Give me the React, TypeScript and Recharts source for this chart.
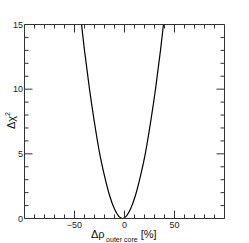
import React from 'react';
import { LineChart, Line, XAxis, YAxis } from 'recharts';

const deltaRho = [-44, -40, -35, -30, -25, -20, -15, -10, -6, -4, -2, 0, 2, 6, 11, 16, 21, 26, 31, 36, 40];
const deltaChi2 = [15.7, 13.0, 10.0, 7.4, 5.1, 3.3, 1.8, 0.73, 0.2, 0.06, 0, 0.06, 0.2, 0.73, 1.8, 3.3, 5.1, 7.4, 10.0, 13.0, 15.7];
const xTicks = [-90, -80, -70, -60, -50, -40, -30, -20, -10, 0, 10, 20, 30, 40, 50, 60, 70, 80, 90];
const xLabelTicks = [-50, 0, 50];
const yTicks = [0, 1, 2, 3, 4, 5, 6, 7, 8, 9, 10, 11, 12, 13, 14, 15];
const yLabelTicks = [0, 5, 10, 15];

const data = deltaRho.map((x, i) => ({ x, y: deltaChi2[i] }));

const FONT = '"Liberation Sans", Arial, sans-serif';
const AX = '#333';
const fmt = (v: number) => (v < 0 ? '\u2212' + Math.abs(v) : String(v));

const BottomTick = (p: any) => {
  const { x, y, payload } = p;
  const major = xLabelTicks.includes(payload.value);
  return (
    <g>
      <line x1={x} x2={x} y1={y} y2={y - (major ? 8 : 4)} stroke={AX} />
      {major && (
        <text x={x} y={y + 9.5} textAnchor="middle" fontSize={9} fill="#222" fontFamily={FONT}>
          {fmt(payload.value)}
        </text>
      )}
    </g>
  );
};

const TopTick = (p: any) => {
  const { x, y, payload } = p;
  const major = xLabelTicks.includes(payload.value);
  return <line x1={x} x2={x} y1={y} y2={y + (major ? 8 : 4)} stroke={AX} />;
};

const LeftTick = (p: any) => {
  const { x, y, payload } = p;
  const major = yLabelTicks.includes(payload.value);
  return (
    <g>
      <line x1={x} x2={x + (major ? 8 : 4)} y1={y} y2={y} stroke={AX} />
      {major && (
        <text x={x - 1.5} y={y + 3.2} textAnchor="end" fontSize={9} fill="#222" fontFamily={FONT}>
          {fmt(payload.value)}
        </text>
      )}
    </g>
  );
};

const RightTick = (p: any) => {
  const { x, y, payload } = p;
  const major = yLabelTicks.includes(payload.value);
  return <line x1={x} x2={x - (major ? 8 : 4)} y1={y} y2={y} stroke={AX} />;
};

const XTitle = () => (
  <text x={91} y={238} fontFamily={FONT} fill="#111" fontSize={11}>
    <tspan>Δρ</tspan>
    <tspan fontSize={7} dx={1.5} dy={3.5}>outer core</tspan>
    <tspan fontSize={11} dx={3} dy={-3.5}>[%]</tspan>
  </text>
);

const YTitle = () => (
  <text x={0} y={0} transform="translate(14.5,129) rotate(-90)" fontFamily={FONT} fill="#111" fontSize={11}>
    <tspan>Δχ</tspan>
    <tspan fontSize={7} dy={-5}>2</tspan>
  </text>
);

export default function App() {
  return (
    <div style={{ position: 'absolute', left: 0, top: 0, background: '#fff' }}>
      <LineChart
        width={249}
        height={243}
        data={data}
        margin={{ top: 23.5, right: 23.5, bottom: 0, left: 0 }}
      >
        <XAxis
          dataKey="x"
          type="number"
          domain={[-100, 100]}
          allowDataOverflow
          ticks={xTicks}
          interval={0}
          height={24.5}
          tickSize={0}
          tickMargin={0}
          tickLine={false}
          axisLine={{ stroke: AX }}
          tick={<BottomTick />}
          label={{ content: () => <XTitle /> }}
        />
        <XAxis
          xAxisId="top"
          orientation="top"
          dataKey="x"
          type="number"
          domain={[-100, 100]}
          allowDataOverflow
          ticks={xTicks}
          interval={0}
          height={1}
          tickSize={0}
          tickMargin={0}
          tickLine={false}
          axisLine={{ stroke: AX }}
          tick={<TopTick />}
        />
        <YAxis
          type="number"
          domain={[0, 15]}
          allowDataOverflow
          ticks={yTicks}
          interval={0}
          width={24.5}
          tickSize={0}
          tickMargin={0}
          tickLine={false}
          axisLine={{ stroke: AX }}
          tick={<LeftTick />}
          label={{ content: () => <YTitle /> }}
        />
        <YAxis
          yAxisId="right"
          orientation="right"
          type="number"
          domain={[0, 15]}
          allowDataOverflow
          ticks={yTicks}
          interval={0}
          width={1}
          tickSize={0}
          tickMargin={0}
          tickLine={false}
          axisLine={{ stroke: AX }}
          tick={<RightTick />}
        />
        <Line
          dataKey="y"
          type="monotoneX"
          stroke="#000"
          strokeWidth={1.2}
          dot={false}
          isAnimationActive={false}
        />
      </LineChart>
    </div>
  );
}
